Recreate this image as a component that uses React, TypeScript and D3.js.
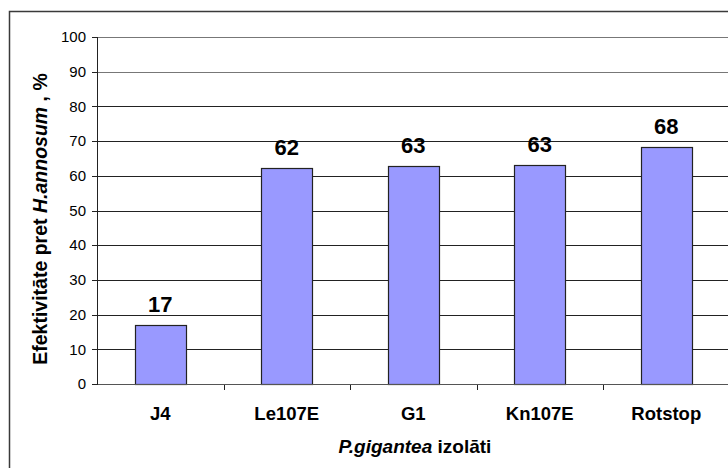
import React from "react";
import * as d3 from "d3";

const categories = ["J4", "Le107E", "G1", "Kn107E", "Rotstop"];
const values = [17.0, 62.3, 62.7, 63.0, 68.2];
const labels = ["17", "62", "63", "63", "68"];
const yTicks = [0, 10, 20, 30, 40, 50, 60, 70, 80, 90, 100];

export default function App() {
  const W = 728, H = 468;
  const left = 97, right = 729.5, top = 37, bottom = 384;
  const x = d3.scaleBand<string>().domain(categories).range([left, right]).paddingInner(0).paddingOuter(0);
  const y = d3.scaleLinear().domain([0, 100]).range([bottom, top]);
  const bw = x.bandwidth() * 0.4;
  const font = "'Liberation Sans', Arial, sans-serif";
  const crisp = (v: number) => Math.round(v) + 0.5;

  return (
    <svg width={W} height={H} style={{ position: "absolute", left: 0, top: 0 }} fontFamily={font}>
      <rect x={0} y={0} width={W} height={H} fill="#fff" />
      <rect x={9.5} y={11.5} width={W + 20} height={H + 20} fill="none" stroke="#3a3a3a" strokeWidth={1.5} />
      {yTicks.map((t) => (
        <g key={t}>
          {t > 0 && (
            <line x1={left} x2={right} y1={crisp(y(t))} y2={crisp(y(t))} stroke={t >= 90 ? "#777" : "#222"} strokeWidth={1} />
          )}
          <line x1={left - 5} x2={left} y1={crisp(y(t))} y2={crisp(y(t))} stroke="#222" />
          <text x={86} y={y(t)} dy="0.35em" textAnchor="end" fontSize={15} fill="#000">{t}</text>
        </g>
      ))}
      {categories.map((c, i) => {
        const cx = (x(c) as number) + x.bandwidth() / 2;
        const yt = y(values[i]);
        return (
          <g key={c}>
            <rect x={Math.round(cx - bw / 2) + 0.5} y={Math.round(yt) + 0.5} width={Math.round(bw)} height={Math.round(bottom - yt)} fill="#9999FF" stroke="#222" strokeWidth={1.2} />
            <text x={cx} y={yt - 13} textAnchor="middle" fontSize={22} fontWeight="bold" fill="#000">{labels[i]}</text>
            <text x={cx} y={420} textAnchor="middle" fontSize={18.5} fontWeight="bold" fill="#000">{c}</text>
          </g>
        );
      })}
      {categories.map((c) => {
        const bx = crisp((x(c) as number) + x.bandwidth());
        return <line key={"t" + c} x1={bx} x2={bx} y1={bottom} y2={bottom + 6} stroke="#222" />;
      })}
      <line x1={left} x2={right} y1={crisp(bottom)} y2={crisp(bottom)} stroke="#555" strokeWidth={1} />
      <line x1={crisp(left)} x2={crisp(left)} y1={top} y2={bottom + 1} stroke="#222" strokeWidth={1} />
      <text x={415} y={453} textAnchor="middle" fontSize={19} fontWeight="bold" fill="#000">
        <tspan fontStyle="italic">P.gigantea</tspan>
        <tspan> izolāti</tspan>
      </text>
      <text transform="translate(47,219) rotate(-90)" textAnchor="middle" fontSize={19.5} fontWeight="bold" fill="#000">
        <tspan>Efektivitāte pret </tspan>
        <tspan fontStyle="italic">H.annosum</tspan>
        <tspan> , %</tspan>
      </text>
    </svg>
  );
}
